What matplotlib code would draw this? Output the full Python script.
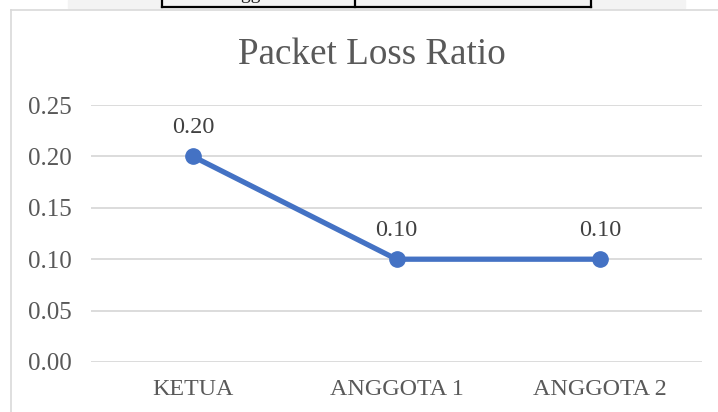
import matplotlib.pyplot as plt
from matplotlib.lines import Line2D
from matplotlib.patches import Rectangle

categories = ["KETUA", "ANGGOTA 1", "ANGGOTA 2"]
loss_ratio = [0.20, 0.10, 0.10]
y_ticks = [0.00, 0.05, 0.10, 0.15, 0.20, 0.25]

W, H = 718, 412
plt.rcParams["font.family"] = ["Liberation Serif", "DejaVu Serif"]

fig = plt.figure(figsize=(W / 100, H / 100), dpi=100)


def fx(px):
    return px / W


def fy(py):
    return 1 - py / H


# fragment of the table above the chart (cut off at the page edge)
fig.patches.append(Rectangle((fx(68), fy(8)), fx(617), fy(0) - fy(8),
                             transform=fig.transFigure, color="#F3F3F3", zorder=0))
for x0, x1, y0, y1 in [(162, 591, 7, 7), (162, 162, -5, 7), (355, 355, -5, 7), (591, 591, -5, 7)]:
    fig.add_artist(Line2D([fx(x0), fx(x1)], [fy(y0), fy(y1)], color="black", lw=1.6))
fig.text(fx(258), fy(3), "Anggota 2", ha="center", va="bottom", fontsize=14, color="#222222")
fig.text(fx(473), fy(3), "0.10", ha="center", va="bottom", fontsize=14, color="#222222")

# chart frame
fig.add_artist(Line2D([fx(11), fx(11)], [fy(10), fy(H + 5)], color="#D9D9D9", lw=1.2))
fig.add_artist(Line2D([fx(11), fx(W + 5)], [fy(10), fy(10)], color="#D9D9D9", lw=1.2))

ax = fig.add_axes([fx(91), fy(362), fx(702) - fx(91), fy(105) - fy(362)])
x = list(range(len(categories)))
ax.plot(x, loss_ratio, color="#4472C4", lw=3.8, marker="o", markersize=11,
        solid_capstyle="round", zorder=3)

# value labels
for xi, v in zip(x, loss_ratio):
    ax.annotate(f"{v:.2f}", (xi, v), textcoords="offset points", xytext=(0, 21),
                ha="center", va="center", fontsize=17.5, color="#404040")

ax.set_xlim(-0.5, len(categories) - 0.5)
ax.set_ylim(0, 0.25)
ax.set_yticks(y_ticks)
ax.set_yticklabels([f"{t:.2f}" for t in y_ticks])
ax.set_xticks(x)
ax.set_xticklabels(categories)
ax.yaxis.grid(True, color="#D9D9D9", lw=1.3)
ax.set_axisbelow(True)
for s in ax.spines.values():
    s.set_visible(False)
ax.tick_params(axis="y", length=0, pad=14, labelsize=18, labelcolor="#595959")
ax.tick_params(axis="x", length=0, pad=12, labelsize=17.3, labelcolor="#595959")

fig.text(fx(372), fy(55), "Packet Loss Ratio", ha="center", va="center",
         fontsize=26.7, color="#595959")

fig.savefig("out.png", dpi=100)
